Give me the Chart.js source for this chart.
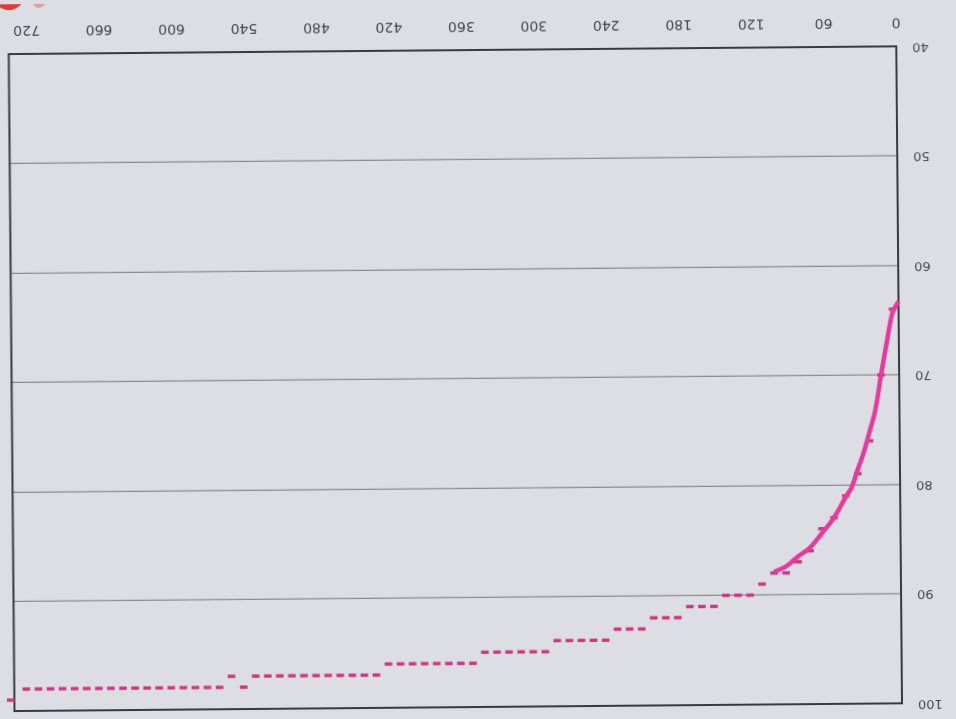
<!DOCTYPE html>
<html>
<head>
<meta charset="utf-8">
<script src="https://cdn.jsdelivr.net/npm/chart.js@4.4.1/dist/chart.umd.min.js"></script>
<style>
    html, body {
        margin: 0;
        padding: 0;
        background: #dddde4;
        overflow: hidden;
    }
    #wrap {
        width: 956px;
        height: 719px;
        /* the sheet is mounted upside down, slightly skewed */
        transform: rotate(179.5deg);
        transform-origin: 50% 50%;
    }
</style>
</head>
<body>
<div id="wrap"><canvas id="recoveryChart" width="956" height="719"></canvas></div>
<script>
// Sampled readings, one every 10 units
const sampleTimes = [
    5, 15, 25, 35, 45, 55, 65, 75, 85, 95, 105, 115,
    125, 135, 145, 155, 165, 175, 185, 195, 205, 215, 225, 235,
    245, 255, 265, 275, 285, 295, 305, 315, 325, 335, 345,
    355, 365, 375, 385, 395, 405, 415, 425,
    435, 445, 455, 465, 475, 485, 495, 505, 515, 525, 535,
    545, 555,
    565, 575, 585, 595, 605, 615, 625, 635, 645, 655, 665, 675, 685, 695, 705, 715, 725,
    738
];
const sampleValues = [
    64, 70, 76, 79, 81, 83, 84, 86, 87, 88, 88, 89,
    90, 90, 90, 91, 91, 91, 92, 92, 92, 93, 93, 93,
    94, 94, 94, 94, 94, 95, 95, 95, 95, 95, 95,
    96, 96, 96, 96, 96, 96, 96, 96,
    97, 97, 97, 97, 97, 97, 97, 97, 97, 97, 97,
    98, 97,
    98, 98, 98, 98, 98, 98, 98, 98, 98, 98, 98, 98, 98, 98, 98, 98, 98,
    99
];

// Continuous trace over the fast rise
const traceTimes = [0, 5, 10, 15, 20, 25, 30, 35, 40, 45, 55, 65, 75, 85, 95, 105];
const traceValues = [63.3, 64.3, 67, 70, 73.2, 75.2, 77.1, 78.6, 80.2, 81.1, 83, 84.4, 85.7, 86.5, 87.4, 87.9];

const xTicks = [0, 60, 120, 180, 240, 300, 360, 420, 480, 540, 600, 660, 720];
const yTicks = [40, 50, 60, 70, 80, 90, 100];
const xMax = 735;

const PINK_DASH = '#d2347f';
const PINK_LINE = '#e43a9c';
const FONT = "'DejaVu Sans', 'Liberation Sans', sans-serif";

function toPoints(xs, ys) {
    return xs.map((x, i) => ({ x: x, y: ys[i] }));
}

// Closed box round the plot area
const framePlugin = {
    id: 'frame',
    beforeDatasetsDraw(chart) {
        const { ctx, chartArea: a } = chart;
        ctx.save();
        ctx.strokeStyle = '#3a3a3e';
        ctx.lineWidth = 2;
        ctx.strokeRect(a.left, a.top, a.right - a.left, a.bottom - a.top);
        ctx.restore();
    }
};

// Red marker dot in the sheet corner
const cornerDotPlugin = {
    id: 'cornerDot',
    afterDraw(chart) {
        const ctx = chart.ctx;
        ctx.save();
        ctx.fillStyle = '#e23a36';
        ctx.beginPath();
        ctx.arc(944, 729, 16, 0, Math.PI * 2);
        ctx.fill();
        ctx.fillStyle = 'rgba(236, 110, 120, 0.6)';
        ctx.beginPath();
        ctx.arc(914, 721, 6, 0, Math.PI * 2);
        ctx.fill();
        ctx.restore();
    }
};

const chart = new Chart(document.getElementById('recoveryChart'), {
    type: 'scatter',
    data: {
        datasets: [
            {
                label: 'trace',
                data: toPoints(traceTimes, traceValues),
                showLine: true,
                borderColor: PINK_LINE,
                borderWidth: 4.5,
                tension: 0.35,
                pointRadius: 0,
                clip: false
            },
            {
                label: 'samples',
                data: toPoints(sampleTimes, sampleValues),
                showLine: false,
                pointStyle: 'line',
                pointRadius: 3.8,
                pointBorderWidth: 3.4,
                pointBorderColor: PINK_DASH,
                pointBackgroundColor: PINK_DASH,
                clip: false
            }
        ]
    },
    options: {
        responsive: false,
        animation: false,
        devicePixelRatio: 1,
        layout: {
            padding: { top: 12, right: 9, left: 0, bottom: 0 }
        },
        plugins: {
            legend: { display: false },
            tooltip: { enabled: false }
        },
        scales: {
            x: {
                type: 'linear',
                min: 0,
                max: xMax,
                afterBuildTicks: scale => {
                    scale.ticks = xTicks.map(v => ({ value: v }));
                },
                afterFit: scale => { scale.height = 50; },
                ticks: {
                    autoSkip: false,
                    padding: 16,
                    maxRotation: 0,
                    color: '#48484c',
                    font: { family: FONT, size: 14 }
                },
                grid: { display: false, drawTicks: false },
                border: { display: false }
            },
            y: {
                min: yTicks[0],
                max: yTicks[yTicks.length - 1],
                afterBuildTicks: scale => {
                    scale.ticks = yTicks.map(v => ({ value: v }));
                },
                afterFit: scale => {
                    scale.width = 57;
                    // label gap should not push the plot down
                    scale.paddingTop = 0;
                    scale.paddingBottom = 0;
                },
                ticks: {
                    padding: 16,
                    color: '#48484c',
                    font: { family: FONT, size: 13 }
                },
                grid: {
                    drawTicks: false,
                    lineWidth: 1.3,
                    color: ctx => (ctx.tick && (ctx.tick.value === 40 || ctx.tick.value === 100))
                        ? 'rgba(0,0,0,0)' : '#8b8b90'
                },
                border: { display: false }
            }
        }
    },
    plugins: [framePlugin, cornerDotPlugin]
});
</script>
</body>
</html>
